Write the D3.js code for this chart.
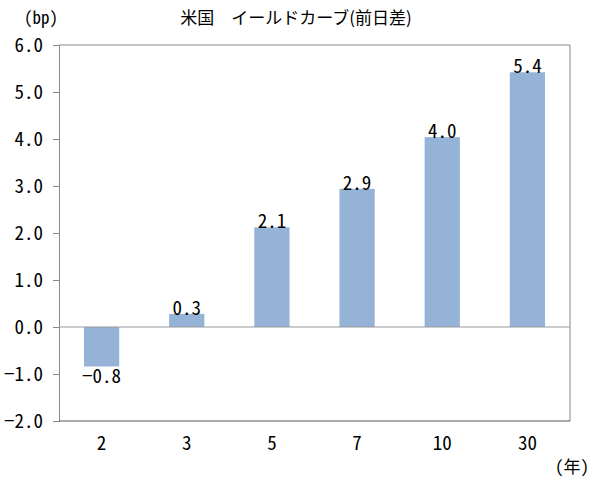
<!DOCTYPE html>
<html>
<head>
<meta charset="utf-8">
<script src="https://cdn.jsdelivr.net/npm/d3@7"></script>
<style>
  body { margin: 0; background: #fff; }
  text {
    font-family: "Noto Sans CJK JP", sans-serif;
    font-feature-settings: "hwid" 1;
    fill: #000;
  }
  text.title { font-feature-settings: normal; }
</style>
</head>
<body>
<div id="chart"></div>
<script>
var categories = ['2', '3', '5', '7', '10', '30'];
var values = [-0.84, 0.28, 2.12, 2.94, 4.04, 5.42];
var yTicks = [-2, -1, 0, 1, 2, 3, 4, 5, 6];

var w = 598, h = 482;
var margin = { top: 45, right: 28, bottom: 61, left: 59 };
var innerW = w - margin.left - margin.right,
    innerH = h - margin.top - margin.bottom;

function translation(x, y) {
  return 'translate(' + x + ',' + y + ')';
}

var svg = d3.select('#chart').append('svg')
  .attr('width', w)
  .attr('height', h);

var g = svg.append('g').attr('transform', translation(margin.left, margin.top));

var xScale = d3.scaleBand()
  .domain(categories)
  .range([0, innerW])
  .paddingInner(0.586)
  .paddingOuter(0.293);

var yScale = d3.scaleLinear()
  .domain([-2, 6])
  .range([innerH, 0]);

var fmt = d3.format('.1f');

// plot border (top, right)
g.append('path')
  .attr('d', 'M0,0H' + innerW + 'V' + innerH)
  .attr('fill', 'none')
  .attr('stroke', '#888');

// y axis
var yAxis = d3.axisLeft(yScale)
  .tickValues(yTicks)
  .tickSize(6)
  .tickPadding(10)
  .tickFormat(fmt);

g.append('g')
  .attr('class', 'axis y')
  .call(yAxis)
  .call(function(a) {
    a.select('.domain').attr('stroke', '#888');
    a.selectAll('.tick line').attr('stroke', '#888');
    a.selectAll('text')
      .style('font-size', '19px')
      .style('font-family', '"Noto Sans CJK JP", sans-serif')
      .attr('fill', '#000');
  });

// bars
g.selectAll('.bar')
  .data(values)
  .enter().append('rect')
    .attr('class', 'bar')
    .attr('x', function(d, i) { return xScale(categories[i]); })
    .attr('y', function(d) { return yScale(Math.max(0, d)); })
    .attr('width', xScale.bandwidth())
    .attr('height', function(d) { return Math.abs(yScale(d) - yScale(0)); })
    .attr('fill', '#95b3d7');

// zero line
g.append('line')
  .attr('x1', 0).attr('x2', innerW)
  .attr('y1', yScale(0)).attr('y2', yScale(0))
  .attr('stroke', '#999');

// bottom axis line
g.append('line')
  .attr('x1', 0).attr('x2', innerW)
  .attr('y1', innerH).attr('y2', innerH)
  .attr('stroke', '#555');

// value labels
g.selectAll('.label')
  .data(values)
  .enter().append('text')
    .attr('class', 'label')
    .attr('x', function(d, i) { return xScale(categories[i]) + xScale.bandwidth() / 2; })
    .attr('y', function(d) { return d >= 0 ? yScale(d) + 1 : yScale(d) + 17; })
    .attr('text-anchor', 'middle')
    .style('font-size', '19px')
    .text(function(d) { return fmt(d); });

// category labels
g.selectAll('.cat')
  .data(categories)
  .enter().append('text')
    .attr('class', 'cat')
    .attr('x', function(d) { return xScale(d) + xScale.bandwidth() / 2; })
    .attr('y', innerH + 29)
    .attr('text-anchor', 'middle')
    .style('font-size', '19px')
    .text(function(d) { return d; });

// titles
svg.append('text')
  .attr('class', 'title')
  .attr('x', 296).attr('y', 24)
  .attr('text-anchor', 'middle')
  .style('font-size', '17px')
  .text('米国　イールドカーブ(前日差)');

svg.append('text')
  .attr('x', 24).attr('y', 24)
  .style('font-size', '17px')
  .text('(bp)');

svg.append('text')
  .attr('x', 555).attr('y', 473)
  .style('font-size', '17px')
  .text('(年)');
</script>
</body>
</html>
